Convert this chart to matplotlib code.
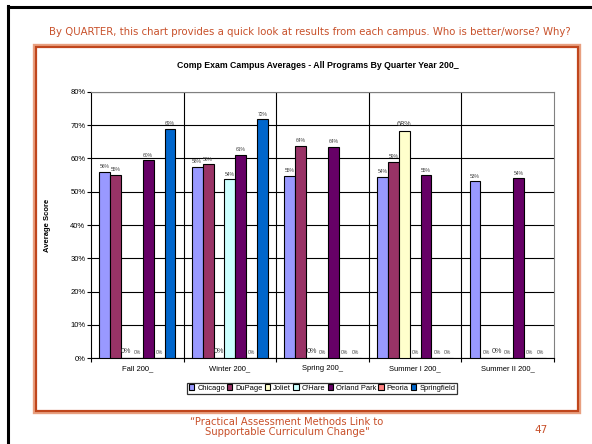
import numpy as np
import matplotlib
matplotlib.use("Agg")
import matplotlib.pyplot as plt
from matplotlib.patches import Rectangle
from matplotlib.lines import Line2D

quarters = ["Fall 200_", "Winter 200_", "Spring 200_", "Summer I 200_", "Summer II 200_"]
campuses = ["Chicago", "DuPage", "Joliet", "O'Hare", "Orland Park", "Peoria", "Springfield"]
colors = ["#9999FF", "#993366", "#FFFFCC", "#CCFFFF", "#660066", "#FF8080", "#0066CC"]

# score per campus, one value per quarter
chicago = [56.0, 57.5, 54.7, 54.4, 53.1]
dupage = [55.1, 58.2, 63.8, 59.0, 0]
joliet = [0, 0, 0, 68.3, 0]
ohare = [0, 53.7, 0, 0, 0]
orland_park = [59.5, 61.2, 63.5, 54.9, 54.0]
peoria = [0, 0, 0, 0, 0]
springfield = [68.9, 71.8, 0, 0, 0]
series = [chicago, dupage, joliet, ohare, orland_park, peoria, springfield]

slide_orange = "#C8502A"

fig = plt.figure(figsize=(5.92, 4.44), dpi=100)
fig.patch.set_facecolor("white")

# slide border (black) and orange frame
fig.add_artist(Line2D([8/592, 8/592], [0, 1 - 6/444], color="black", lw=2.2, transform=fig.transFigure))
fig.add_artist(Line2D([8/592, 1], [1 - 7/444, 1 - 7/444], color="black", lw=2.2, transform=fig.transFigure))
fig.add_artist(Rectangle((34/592, 1 - 412/444), (579 - 34)/592, (412 - 45)/444, fill=False,
                         edgecolor="#E8A080", lw=2.4, transform=fig.transFigure))
fig.add_artist(Rectangle((35.5/592, 1 - 410.5/444), (577.5 - 35.5)/592, (410.5 - 46.5)/444, fill=False,
                         edgecolor="#C0461C", lw=1.6, transform=fig.transFigure))

fig.text(310/592, 1 - 32/444, "By QUARTER, this chart provides a quick look at results from each campus. Who is better/worse? Why?",
         ha="center", va="center", fontsize=7.3, color=slide_orange, family="DejaVu Sans")

ax = fig.add_axes([91/592, 1 - 358/444, (554 - 91)/592, (358 - 92)/444])

x = np.arange(len(quarters)) + 0.5
w = 1 / 8.5
for i, (name, vals, c) in enumerate(zip(campuses, series, colors)):
    pos = x + (i - 3) * w
    ax.bar(pos, vals, width=w, color=c, edgecolor="black", linewidth=0.8, label=name, zorder=3)
    for p, v in zip(pos, vals):
        big = name == "Joliet"
        ax.text(p, v + (0.8 if v > 0 else 0.9), f"{v:.0f}%", ha="center", va="bottom",
                fontsize=5.2 if big else 3.6, color="#404040", family="Liberation Sans", zorder=4)

ax.set_xlim(0, 5)
ax.set_ylim(0, 80)
ax.set_yticks(np.arange(0, 81, 10))
ax.set_yticklabels([f"{t}%" for t in range(0, 81, 10)])
ax.set_xticks(x)
ax.set_xticklabels(quarters)
ax.set_xticks(np.arange(0, 6), minor=True)
ax.tick_params(axis="x", which="major", length=0, pad=5, labelsize=5.5)
ax.tick_params(axis="x", which="minor", length=3, direction="out", width=0.8)
ax.tick_params(axis="y", length=3, direction="out", width=0.8, pad=1, labelsize=5.5)
for lab in ax.get_xticklabels() + ax.get_yticklabels():
    lab.set_family("Liberation Sans")
ax.grid(axis="y", color="black", lw=0.8, zorder=1)
for b in range(1, 5):
    ax.axvline(b, color="black", lw=0.8, zorder=1)
for s in ["top", "right"]:
    ax.spines[s].set_color("#808080")
ax.spines["left"].set_color("black")
ax.spines["bottom"].set_color("black")

ax.set_ylabel("Average Score", fontsize=5.5, fontweight="bold", family="Liberation Sans", labelpad=14)
fig.text(318/592, 1 - 66/444, "Comp Exam Campus Averages - All Programs By Quarter Year 200_",
         ha="center", va="center", fontsize=6.3, fontweight="bold", family="Liberation Sans")

leg = fig.legend(loc="center", bbox_to_anchor=(322/592, 1 - 388/444), ncol=7,
                 handlelength=0.7, handleheight=0.7, handletextpad=0.4, columnspacing=0.3,
                 borderpad=0.25, frameon=True, fancybox=False, prop={"family": "Liberation Sans", "size": 5.4})
leg.get_frame().set_edgecolor("black")
leg.get_frame().set_linewidth(0.9)

fig.text(287/592, 1 - 427/444, "\u201cPractical Assessment Methods Link to\nSupportable Curriculum Change\"",
         ha="center", va="center", fontsize=7.2, color=slide_orange, family="DejaVu Sans", linespacing=1.1)
fig.text(541/592, 1 - 430/444, "47", ha="center", va="center", fontsize=7.5, color=slide_orange, family="DejaVu Sans")

fig.savefig("out.png", dpi=100)
